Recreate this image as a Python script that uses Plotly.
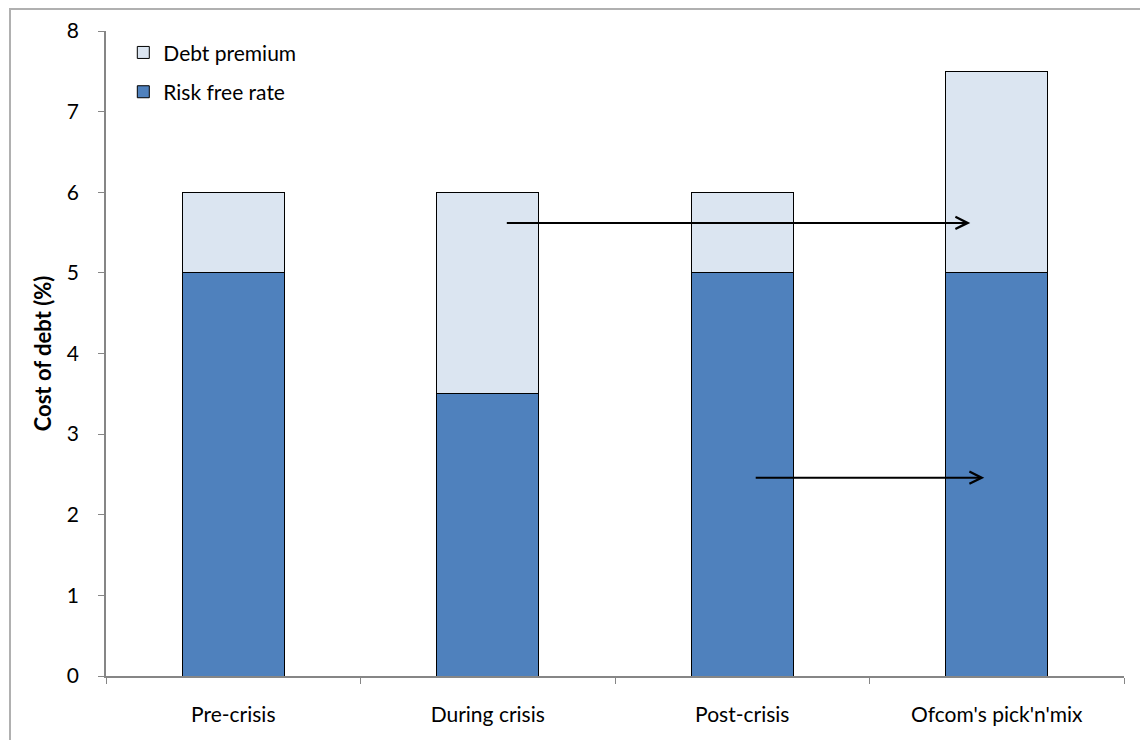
import plotly.graph_objects as go

categories = ["Pre-crisis", "During crisis", "Post-crisis", "Ofcom's pick'n'mix"]
risk_free = [5.0, 3.5, 5.0, 5.0]
debt_premium = [1.0, 2.5, 1.0, 2.5]

# arrows: (x_start_index, x_end_index, y_value)
arrow_x0 = [1.069, 2.047]
arrow_x1 = [2.896, 2.951]
arrow_y = [5.62, 2.46]

FONT = "Lato"
DARK = "#4f81bd"
LIGHT = "#dbe5f1"

fig = go.Figure()
fig.add_trace(go.Bar(x=categories, y=risk_free, name="Risk free rate",
                     marker=dict(color=DARK, line=dict(color="#000", width=1)),
                     width=0.4, legendgroup="b", legendrank=2))
fig.add_trace(go.Bar(x=categories, y=debt_premium, name="Debt premium",
                     marker=dict(color=LIGHT, line=dict(color="#000", width=1)),
                     width=0.4, legendgroup="a", legendrank=1))

for x0, x1, y in zip(arrow_x0, arrow_x1, arrow_y):
    fig.add_annotation(x=x1, y=y, ax=x0, ay=y, xref="x", yref="y", axref="x", ayref="y",
                       showarrow=True, arrowhead=5, arrowsize=1.2, arrowwidth=2,
                       arrowcolor="#000", text="")

fig.add_shape(type="rect", xref="paper", yref="paper", x0=-0.0943, x1=1.2, y0=-0.3, y1=1.034,
              line=dict(color="#b0b0b0", width=2), fillcolor="rgba(0,0,0,0)", layer="below")

fig.update_layout(
    width=1140, height=740,
    margin=dict(l=106, r=16, t=31, b=64),
    barmode="stack",
    plot_bgcolor="white", paper_bgcolor="white",
    font=dict(family=FONT, size=21, color="#000"),
    showlegend=True,
    legend=dict(x=0.017, y=0.998, xanchor="left", yanchor="top", traceorder="grouped",
                tracegroupgap=9, font=dict(size=21), bgcolor="rgba(0,0,0,0)",
                itemwidth=30),
    xaxis=dict(type="category", showline=True, linecolor="#868686", linewidth=1.5,
               ticks="outside", tickson="boundaries", ticklen=6, tickcolor="#868686",
               showgrid=False, ticklabelstandoff=19, range=[-0.5, 3.5]),
    yaxis=dict(range=[0, 8], dtick=1, showline=True, linecolor="#868686", linewidth=1.5,
               ticks="outside", ticklen=6, tickcolor="#868686", showgrid=False, zeroline=False,
               ticklabelstandoff=15,
               title=dict(text="<b>Cost of debt (%)</b>", font=dict(size=22), standoff=9)),
)

fig.write_html("out.html")
